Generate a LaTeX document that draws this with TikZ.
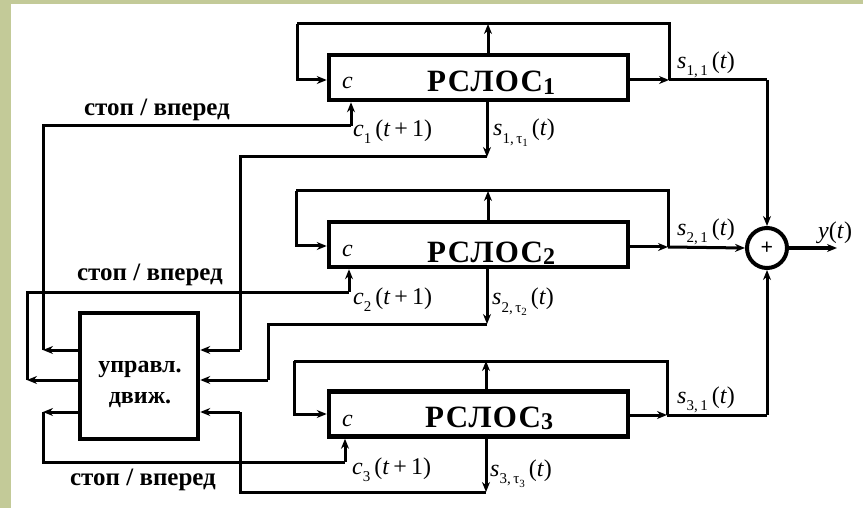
\documentclass[tikz,border=0pt]{standalone}
\usepackage{fontspec}
\setmainfont{Liberation Serif}
\usetikzlibrary{arrows.meta}
\definecolor{khaki}{RGB}{195,202,152}
\newcommand\lsub[1]{\raisebox{-0.3em}{\fontsize{15}{15}\selectfont #1}}
\newcommand\lssub[1]{\raisebox{-0.25em}{\fontsize{11}{11}\selectfont #1}}
\newcommand\tsub[1]{\raisebox{-0.08em}{\fontsize{24}{24}\selectfont #1}}
\newcommand\clbl[1]{\textit{c}\lsub{#1}\,(\textit{t}\,+\,1)}
\newcommand\slbl[1]{\textit{s}\lsub{#1}\,(\textit{t})}
\begin{document}
\begin{tikzpicture}[x=1pt,y=-1pt,
  wire/.style={line width=3pt},
  arr/.style={wire,-{Stealth[length=10pt,width=8pt]}},
  regbox/.style={draw,line width=4.5pt,minimum width=299pt,minimum height=45pt,inner sep=0pt},
  ctlbox/.style={draw,line width=4.5pt,minimum width=118pt,minimum height=126pt,inner sep=0pt},
  ctltext/.style={inner sep=0pt,align=center,font=\fontsize{24}{31}\selectfont\bfseries},
  lbl/.style={inner sep=0pt,anchor=west,font=\fontsize{24}{24}\selectfont},
  stoplbl/.style={inner sep=0pt,font=\fontsize{25}{25}\selectfont\bfseries},
  titl/.style={inner sep=0pt,anchor=base west,font=\fontsize{31}{31}\selectfont\bfseries\addfontfeature{LetterSpace=4}},
  cin/.style={inner sep=0pt,anchor=base west,font=\fontsize{24}{24}\selectfont\itshape},
]
\fill[khaki] (0,0) rectangle (863,508);
\fill[white] (11,4) rectangle (863,508);
\useasboundingbox (0,0) rectangle (863,508);

% blocks
\node[regbox] (b1) at (478.5,77.5) {};
\node[regbox] (b2) at (478.5,244.5) {};
\node[regbox] (b3) at (478.5,414) {};
\node[ctlbox] (ctl) at (139,376) {};
\node[ctltext] (ctlt) at (140,384) {управл.\\движ.};
\node[draw,circle,line width=4pt,minimum size=40pt,inner sep=0pt,font=\fontsize{22}{22}\selectfont\bfseries] (sum) at (767,248) {+};

% titles
\node[titl] (t1) at (427,92) {РСЛОС\tsub{1}};
\node[titl] (t2) at (427,262) {РСЛОС\tsub{2}};
\node[titl] (t3) at (425,427) {РСЛОС\tsub{3}};
\node[cin] (c1) at (342,89) {c};
\node[cin] (c2) at (342,256) {c};
\node[cin] (c3) at (342,426) {c};

% coordinates register 1
\coordinate (r1tl) at (297,24);
\coordinate (r1tr) at (669,24);
\coordinate (r1up) at (488,24);
\coordinate (r1in) at (297,80);
\coordinate (r1out) at (669,80);
\coordinate (r1sum) at (767,80);
% register 2
\coordinate (r2tl) at (296,191);
\coordinate (r2tr) at (668,191);
\coordinate (r2up) at (488,191);
\coordinate (r2in) at (296,246);
\coordinate (r2out) at (668,247);
% register 3
\coordinate (r3tl) at (294,361);
\coordinate (r3tr) at (667,361);
\coordinate (r3up) at (486,361);
\coordinate (r3in) at (294,414);
\coordinate (r3out) at (667,415);
\coordinate (r3sum) at (767,415);

% feedback loops
\foreach \i in {1,2,3}{
  \draw[arr] (r\i up |- b\i.north) -- (r\i up);
  \draw[wire] (r\i tl) -- (r\i tr) -- (r\i out);
  \draw[arr] (r\i tl) -- (r\i in) -- (b\i.west |- r\i in);
  \draw[arr] (b\i.east |- r\i out) -- (r\i out);
}
\draw[wire] (r1out) -- (r1sum);
\draw[arr] (r1sum) -- (sum.north);
\draw[arr] (r2out) -- (sum.west);
\draw[wire] (r3out) -- (r3sum);
\draw[arr] (r3sum) -- (sum.south);
\coordinate (yout) at (837,248);
\draw[arr] (sum.east) -- (yout);

% control -> c inputs
\coordinate (k1a) at (43,350);
\coordinate (k1b) at (43,126);
\coordinate (k1c) at (351,126);
\draw[arr] (ctl.west |- k1a) -- (k1a);
\draw[wire] (k1a) -- (k1b) -- (k1c);
\draw[arr] (k1c) -- (k1c |- b1.south);

\coordinate (k2a) at (27,380);
\coordinate (k2b) at (27,292);
\coordinate (k2c) at (349,292);
\draw[arr] (ctl.west |- k2a) -- (k2a);
\draw[wire] (k2a) -- (k2b) -- (k2c);
\draw[arr] (k2c) -- (k2c |- b2.south);

\coordinate (k3a) at (43,412);
\coordinate (k3b) at (43,462);
\coordinate (k3c) at (345,462);
\draw[arr] (ctl.west |- k3a) -- (k3a);
\draw[wire] (k3a) -- (k3b) -- (k3c);
\draw[arr] (k3c) -- (k3c |- b3.south);

% tau outputs -> control
\coordinate (m1a) at (487,157);
\coordinate (m1b) at (240,157);
\coordinate (m1c) at (240,350);
\draw[arr] (m1a |- b1.south) -- (m1a);
\draw[wire] (m1a) -- (m1b) -- (m1c);
\draw[arr] (m1c) -- (ctl.east |- m1c);

\coordinate (m2a) at (487,324);
\coordinate (m2b) at (268,324);
\coordinate (m2c) at (268,380);
\draw[arr] (m2a |- b2.south) -- (m2a);
\draw[wire] (m2a) -- (m2b) -- (m2c);
\draw[arr] (m2c) -- (ctl.east |- m2c);

\coordinate (m3a) at (486,492);
\coordinate (m3b) at (240,492);
\coordinate (m3c) at (240,412);
\draw[arr] (m3a |- b3.south) -- (m3a);
\draw[wire] (m3a) -- (m3b) -- (m3c);
\draw[arr] (m3c) -- (ctl.east |- m3c);

% labels
\node[stoplbl] (st1) at (157,110) {стоп / вперед};
\node[stoplbl] (st2) at (150,275) {стоп / вперед};
\node[stoplbl] (st3) at (143,480) {стоп / вперед};
\node[lbl] (lc1) at (353,132) {\clbl{1}};
\node[lbl] (lc2) at (353,300) {\clbl{2}};
\node[lbl] (lc3) at (352,470) {\clbl{3}};
\node[lbl] (ls1) at (493,133) {\slbl{1,\,τ\lssub{1}}};
\node[lbl] (ls2) at (492,302) {\slbl{2,\,τ\lssub{2}}};
\node[lbl] (ls3) at (490,474) {\slbl{3,\,τ\lssub{3}}};
\node[lbl] (lo1) at (677,65) {\slbl{1,\,1}};
\node[lbl] (lo2) at (677,232) {\slbl{2,\,1}};
\node[lbl] (lo3) at (677,400) {\slbl{3,\,1}};
\node[lbl] (ly) at (818,233) {\textit{y}(\textit{t})};
\end{tikzpicture}
\end{document}
